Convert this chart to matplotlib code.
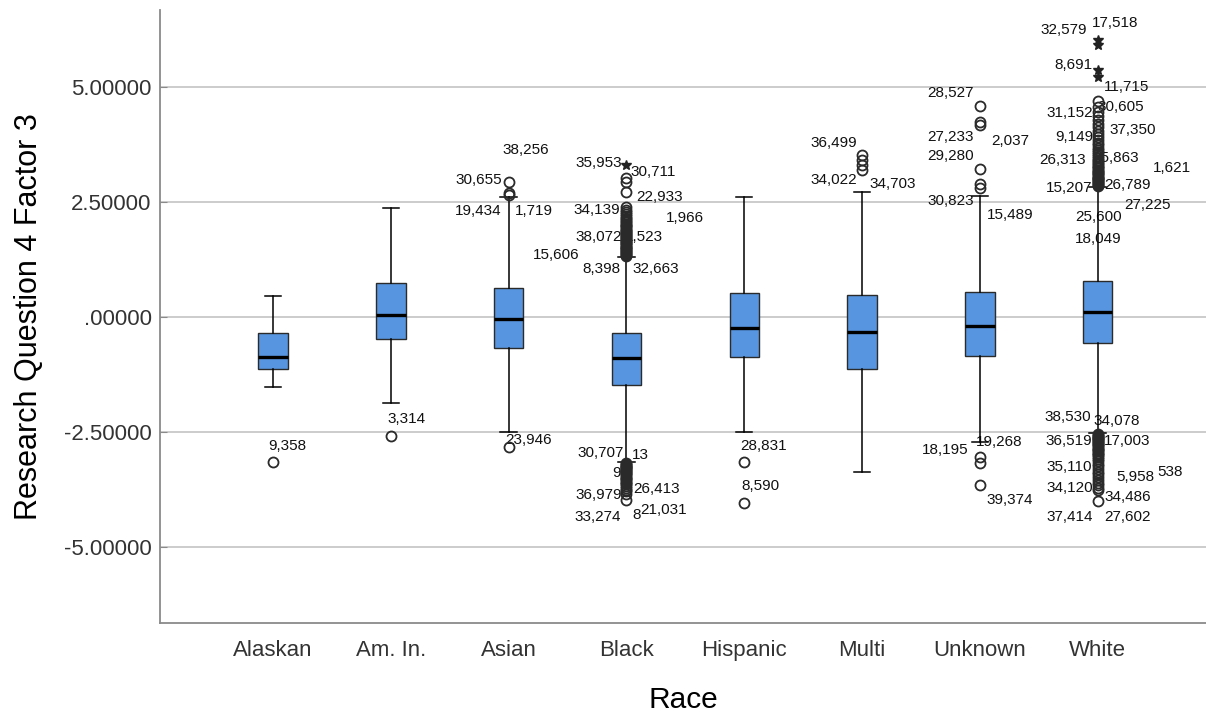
import matplotlib
matplotlib.use("Agg")
from matplotlib import pyplot as plt
from matplotlib.ticker import FuncFormatter

plt.rcParams['font.family'] = ['Liberation Sans', 'DejaVu Sans']

categories = ["Alaskan", "Am. In.", "Asian", "Black", "Hispanic", "Multi", "Unknown", "White"]
q1 = [-1.13, -0.48, -0.67, -1.48, -0.87, -1.13, -0.85, -0.57]
medians = [-0.87, 0.04, -0.04, -0.89, -0.24, -0.33, -0.20, 0.11]
q3 = [-0.35, 0.74, 0.63, -0.35, 0.52, 0.48, 0.54, 0.78]
whisker_low = [-1.52, -1.87, -2.50, -3.15, -2.50, -3.37, -2.72, -2.52]
whisker_high = [0.46, 2.37, 2.60, 1.31, 2.61, 2.72, 2.63, 2.83]

# outliers (circles)
out_alaskan = [-3.15]
out_amin = [-2.59]
out_asian = [2.93, 2.70, 2.66, -2.83]
out_black = [1.33, 1.35, 1.37, 1.39, 1.41, 1.43, 1.45, 1.47, 1.49, 1.51, 1.53, 1.56,
             1.58, 1.60, 1.62, 1.64, 1.67, 1.69, 1.71, 1.73, 1.76, 1.78, 1.80, 1.83,
             1.85, 1.87, 1.90, 1.92, 1.95, 1.97, 2.00, 2.03, 2.06, 2.09, 2.12, 2.16,
             2.20, 2.24, 2.28, 2.33, 2.39, 2.72, 2.93, 3.02,
             -3.17, -3.19, -3.21, -3.23, -3.25, -3.27, -3.29, -3.31, -3.33, -3.35,
             -3.37, -3.40, -3.42, -3.44, -3.47, -3.49, -3.52, -3.55, -3.58, -3.61,
             -3.64, -3.67, -3.71, -3.75, -3.79, -3.84, -3.98]
out_hispanic = [-3.15, -4.04]
out_multi = [3.52, 3.41, 3.30, 3.20]
out_unknown = [4.59, 4.24, 4.17, 3.22, 2.89, 2.80, -3.04, -3.17, -3.65]
out_white = [2.85, 2.87, 2.89, 2.91, 2.93, 2.95, 2.97, 2.99, 3.01, 3.03, 3.05, 3.08,
             3.10, 3.12, 3.15, 3.17, 3.20, 3.23, 3.26, 3.29, 3.32, 3.35, 3.38, 3.42,
             3.46, 3.50, 3.54, 3.58, 3.63, 3.68, 3.73, 3.79, 3.85, 3.91, 3.98, 4.05,
             4.12, 4.20, 4.28, 4.36, 4.45, 4.57, 4.70,
             -2.54, -2.56, -2.58, -2.60, -2.62, -2.64, -2.66, -2.68, -2.70, -2.72,
             -2.74, -2.77, -2.79, -2.81, -2.84, -2.86, -2.89, -2.92, -2.95, -2.98,
             -3.01, -3.05, -3.09, -3.14, -3.19, -3.24, -3.30, -3.36, -3.42, -3.48,
             -3.54, -3.60, -3.66, -3.72, -3.77, -4.00]
outliers = [out_alaskan, out_amin, out_asian, out_black, out_hispanic, out_multi,
            out_unknown, out_white]

# extreme values (stars)
extreme_black = [3.30]
extreme_white = [6.02, 5.91, 5.37, 5.22]

# case labels: (category index, text, horizontal shift in px, y value)
case_labels = [
    (0, "9,358", 14, -2.80),
    (1, "3,314", 16, -2.22),
    (2, "38,256", 17, 3.63), (2, "30,655", -30, 2.98), (2, "19,434", -30, 2.30),
    (2, "1,719", 25, 2.30), (2, "23,946", 20, -2.67),
    (3, "35,953", -28, 3.35), (3, "30,711", 27, 3.15), (3, "22,933", 33, 2.61),
    (3, "34,139", -30, 2.33), (3, "1,966", 58, 2.15), (3, "38,072", -28, 1.74),
    (3, "1,523", 17, 1.74), (3, "15,606", -70, 1.35), (3, "8,398", -25, 1.04),
    (3, "32,663", 29, 1.04), (3, "30,707", -26, -2.96), (3, "13", 14, -3.00),
    (3, "9", -10, -3.39), (3, "36,979", -28, -3.87), (3, "26,413", 30, -3.74),
    (3, "33,274", -29, -4.35), (3, "8", 10, -4.30), (3, "21,031", 37, -4.20),
    (4, "28,831", 19, -2.80), (4, "8,590", 16, -3.67),
    (5, "36,499", -28, 3.78), (5, "34,022", -28, 2.98), (5, "34,703", 31, 2.89),
    (6, "28,527", -29, 4.87), (6, "27,233", -29, 3.91), (6, "2,037", 30, 3.83),
    (6, "29,280", -29, 3.50), (6, "30,823", -29, 2.52), (6, "15,489", 30, 2.22),
    (6, "18,195", -35, -2.89), (6, "19,268", 19, -2.72), (6, "39,374", 30, -3.98),
    (7, "32,579", -34, 6.24), (7, "17,518", 17, 6.39), (7, "8,691", -24, 5.48),
    (7, "11,715", 29, 5.00), (7, "30,605", 23, 4.57), (7, "31,152", -28, 4.43),
    (7, "37,350", 35, 4.07), (7, "9,149", -23, 3.91), (7, "26,313", -35, 3.41),
    (7, "35,863", 18, 3.46), (7, "1,621", 74, 3.24), (7, "15,207", -29, 2.80),
    (7, "26,789", 30, 2.87), (7, "27,225", 50, 2.43), (7, "25,600", 1, 2.17),
    (7, "18,049", 1, 1.70), (7, "38,530", -30, -2.17), (7, "34,078", 19, -2.26),
    (7, "36,519", -29, -2.70), (7, "17,003", 29, -2.70), (7, "35,110", -28, -3.26),
    (7, "5,958", 38, -3.48), (7, "538", 72, -3.37), (7, "34,120", -28, -3.72),
    (7, "34,486", 30, -3.91), (7, "37,414", -28, -4.35), (7, "27,602", 30, -4.35),
]

positions = list(range(1, len(categories) + 1))
stats = []
for i in range(len(categories)):
    stats.append({"label": categories[i], "q1": q1[i], "med": medians[i], "q3": q3[i],
                  "whislo": whisker_low[i], "whishi": whisker_high[i],
                  "fliers": outliers[i]})

fig = plt.figure(figsize=(12.06, 7.14), dpi=100)
ax = fig.add_axes([160 / 1206, 91 / 714, 1046 / 1206, 613 / 714])

ax.bxp(stats, positions=positions, widths=0.25, capwidths=0.14, patch_artist=True,
       boxprops=dict(facecolor="#5795e0", edgecolor="#2b2b2b", linewidth=1.0),
       medianprops=dict(color="black", linewidth=2.4),
       whiskerprops=dict(color="black", linewidth=1.1),
       capprops=dict(color="black", linewidth=1.1),
       flierprops=dict(marker="o", markersize=7.2, markerfacecolor="none",
                       markeredgecolor="#2a2a2a", markeredgewidth=1.3, zorder=3))

ax.plot([4] * len(extreme_black), extreme_black, linestyle="none", marker="*",
        markersize=7.5, color="#222222", zorder=3)
ax.plot([8] * len(extreme_white), extreme_white, linestyle="none", marker="*",
        markersize=7.5, color="#222222", zorder=3)

for cat, txt, dx, yv in case_labels:
    ax.annotate(txt, xy=(positions[cat], yv), xytext=(dx, 0), textcoords="offset pixels",
                ha="center", va="center", fontsize=11, color="#111111", zorder=1)

ax.set_xlim(0.04, 8.92)
ax.set_ylim(-6.65, 6.67)
ax.set_yticks([-5, -2.5, 0, 2.5, 5])


def fmt(v, pos):
    s = "%.5f" % v
    if s in ("0.00000", "-0.00000"):
        return ".00000"
    return s


ax.yaxis.set_major_formatter(FuncFormatter(fmt))
ax.set_xticks(positions)
ax.set_xticklabels(categories)
ax.tick_params(axis="x", length=0, pad=12, labelsize=16, labelcolor="#333333")
ax.tick_params(axis="y", length=5, direction="in", color="#8a8a8a", pad=6,
               labelsize=16, labelcolor="#333333")

ax.grid(axis="y", color="#c8c8c8", linewidth=1.3)
ax.set_axisbelow(True)
for side in ["top", "right"]:
    ax.spines[side].set_visible(False)
for side in ["left", "bottom"]:
    ax.spines[side].set_color("#8a8a8a")
    ax.spines[side].set_linewidth(1.3)

ax.set_xlabel("Race", fontsize=21.5, labelpad=18)
ax.set_ylabel("Research Question 4 Factor 3", fontsize=22, labelpad=14)

plt.savefig("out.png", dpi=100)
